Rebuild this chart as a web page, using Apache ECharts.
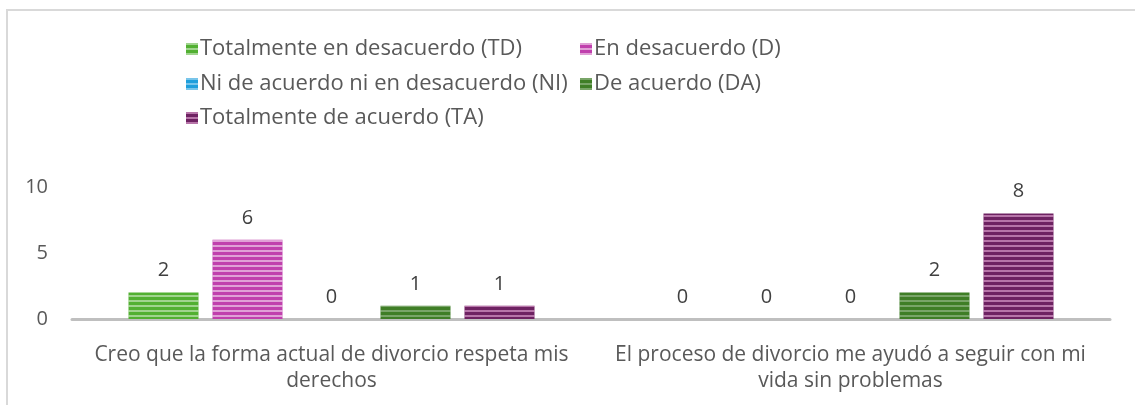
<!DOCTYPE html>
<html>
<head>
<meta charset="utf-8">
<script src="https://cdn.jsdelivr.net/npm/echarts@6/dist/echarts.min.js"></script>
<style>
  html, body { margin: 0; padding: 0; background: #fff; }
  #frame { position: absolute; left: 6px; top: 9px; width: 1140px; height: 410px; border: 2px solid #d9d9d9; box-sizing: border-box; }
  #chart { position: absolute; left: 0; top: 0; width: 1135px; height: 405px; }
</style>
</head>
<body>
<div id="frame"></div>
<div id="chart"></div>
<script>
const categories = [
  'Creo que la forma actual de divorcio respeta mis\nderechos',
  'El proceso de divorcio me ayudó a seguir con mi\nvida sin problemas'
]
const seriesNames = [
  'Totalmente en desacuerdo (TD)',
  'En desacuerdo (D)',
  'Ni de acuerdo ni en desacuerdo (NI)',
  'De acuerdo (DA)',
  'Totalmente de acuerdo (TA)'
]
const tdValues = [2, 0]
const dValues = [6, 0]
const niValues = [0, 0]
const daValues = [1, 2]
const taValues = [1, 8]
const yTicks = [0, 5, 10]

const colors = ['#52b032', '#c040ad', '#1f9fdc', '#3f7e26', '#6e2262']
const stripes = ['rgba(255,255,255,0.45)', 'rgba(255,255,255,0.5)', 'rgba(255,255,255,0.4)', 'rgba(255,255,255,0.3)', 'rgba(255,200,240,0.5)']
const allValues = [tdValues, dValues, niValues, daValues, taValues]

const chart = echarts.init(document.getElementById('chart'))
const font = '"Open Sans", "Liberation Sans", sans-serif'

// one legend per item so the two columns line up like the original
const legendPos = [
  { left: 186, top: 38 },
  { left: 580, top: 38 },
  { left: 186, top: 73 },
  { left: 580, top: 73 },
  { left: 186, top: 107 }
]

chart.setOption({
  animation: false,
  textStyle: { fontFamily: font },
  legend: seriesNames.map((name, i) => ({
    data: [name],
    left: legendPos[i].left,
    top: legendPos[i].top,
    padding: 0,
    itemWidth: 12,
    itemHeight: 12,
    itemGap: 0,
    icon: 'rect',
    textStyle: { fontSize: 22, color: '#595959', padding: [0, 0, 0, -3] }
  })),
  grid: {
    left: 72,
    right: 25,
    top: 187,
    bottom: 86
  },
  xAxis: {
    type: 'category',
    data: categories,
    axisTick: { show: false },
    axisLine: { lineStyle: { color: '#bfbfbf', width: 3 } },
    axisLabel: {
      interval: 0,
      fontSize: 21,
      color: '#595959',
      lineHeight: 26,
      margin: 23
    }
  },
  yAxis: {
    type: 'value',
    min: yTicks[0],
    max: yTicks[yTicks.length - 1],
    interval: yTicks[1] - yTicks[0],
    splitLine: { show: false },
    axisLine: { show: false },
    axisTick: { show: false },
    axisLabel: { fontSize: 20, color: '#595959', margin: 24 }
  },
  series: seriesNames.map((name, i) => ({
    name,
    type: 'bar',
    data: allValues[i],
    barWidth: 70,
    barGap: '20%',
    itemStyle: {
      color: colors[i],
      decal: {
        symbol: 'rect',
        symbolSize: 1,
        dashArrayX: [1, 0],
        dashArrayY: [2, 3],
        color: stripes[i]
      }
    },
    label: {
      show: true,
      position: 'top',
      distance: 12,
      fontSize: 20,
      color: '#404040'
    }
  }))
})
</script>
</body>
</html>
